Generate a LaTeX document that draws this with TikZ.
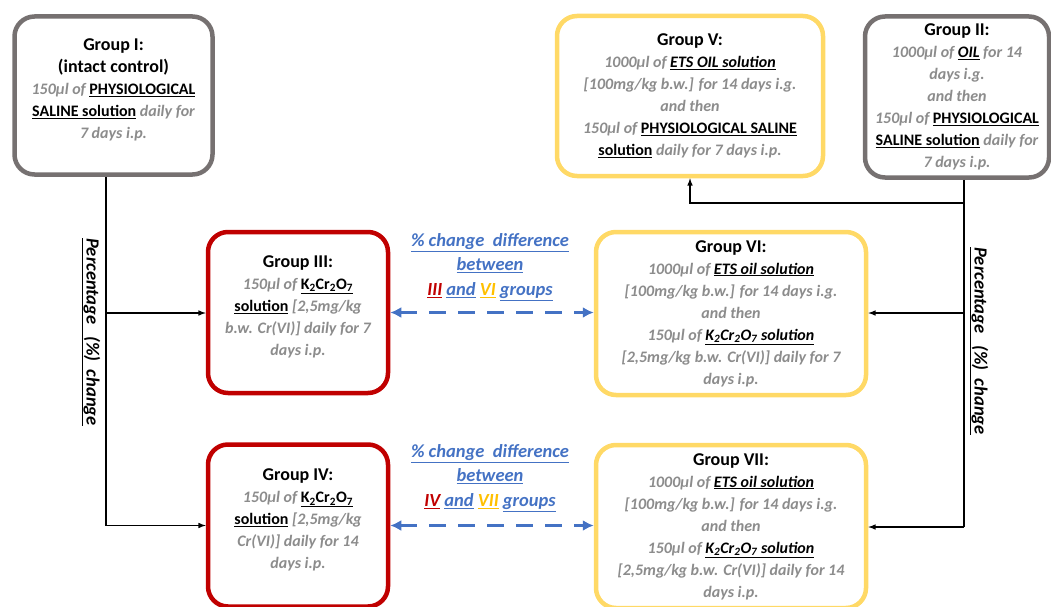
\documentclass[tikz,border=0pt]{standalone}
\usepackage{fontspec}
\setmainfont{Carlito}
\usepackage{xcolor}
\usetikzlibrary{positioning, arrows.meta}
\definecolor{boxgray}{HTML}{767171}
\definecolor{boxred}{HTML}{C00000}
\definecolor{boxyellow}{HTML}{FFD966}
\definecolor{txtgray}{HTML}{8C8C8C}
\definecolor{linkblue}{HTML}{4472C4}
\definecolor{txtgold}{HTML}{FFC000}
\newcommand{\hl}[1]{\textcolor{black}{\underline{#1}}}
\newcommand{\chem}{K\textsubscript{2}Cr\textsubscript{2}O\textsubscript{7}}
\newcommand{\ttl}[1]{\textcolor{black}{\upshape\fontsize{18}{21}\selectfont #1}}
\newcommand{\raisetxt}{\\[-8pt]\mbox{}}
\tikzset{
  grp/.style={draw, line width=4.5pt, rounded corners=20pt, fill=white, align=center,
    font=\bfseries\itshape\fontsize{16}{22}\selectfont, text=txtgray, inner sep=2pt},
  grpgray/.style={grp, draw=boxgray},
  grpred/.style={grp, draw=boxred},
  grpyellow/.style={grp, draw=boxyellow},
  link/.style={line width=1.5pt, ->},
  diff/.style={line width=3pt, linkblue, dash pattern=on 17pt off 12pt,
    {Latex[length=11pt,width=11pt]}-{Latex[length=11pt,width=11pt]}},
  difflbl/.style={align=center, text=linkblue, font=\bfseries\itshape\fontsize{18.5}{24.5}\selectfont},
  pct/.style={rotate=-90, font=\bfseries\itshape\fontsize{18.5}{20}\selectfont}
}
\begin{document}
\begin{tikzpicture}[>=latex, x=1pt, y=-1pt]
  \useasboundingbox (0,0) rectangle (1051,607);
  % Groups
  \node[grpgray, minimum width=198pt, minimum height=158pt] (g1) at (113.5,95.5)
    {\ttl{Group I:}\\ \ttl{(intact control)}\\ 150µl of \hl{\upshape PHYSIOLOGICAL}\\
     \hl{\upshape SALINE solution} daily for\\ 7 days i.p.\raisetxt};
  \node[grpgray, minimum width=184pt, minimum height=161pt] (g2) at (957,97)
    {\ttl{Group II:}\\ 1000µl of \hl{OIL} for 14\\ days i.g.\\ and then\\
     150µl of \hl{\upshape PHYSIOLOGICAL}\\ \hl{\upshape SALINE solution} daily for\\ 7 days i.p.};
  \node[grpyellow, minimum width=266pt, minimum height=160pt] (g5) at (690,96)
    {\ttl{Group V:}\\ 1000µl of \hl{ETS OIL solution}\\ {[}100mg/kg b.w.{]} for 14 days i.g.\\ and then\\
     150µl of \hl{\upshape PHYSIOLOGICAL SALINE}\\ \hl{\upshape solution} daily for 7 days i.p.};
  \node[grpred, minimum width=180pt, minimum height=161pt] (g3) at (298,312.5)
    {\ttl{Group III:}\\ 150µl of \hl{\upshape\chem}\\ \hl{\upshape solution} {[}2,5mg/kg\\
     b.w. Cr(VI){]} daily for 7\\ days i.p.\raisetxt};
  \node[grpyellow, minimum width=270pt, minimum height=163pt] (g6) at (731,313.5)
    {\ttl{Group VI:}\\ 1000µl of \hl{ETS oil solution}\\ {[}100mg/kg b.w.{]} for 14 days i.g.\\ and then\\
     150µl of \hl{\chem\ solution}\\ {[}2,5mg/kg b.w. Cr(VI){]} daily for 7\\ days i.p.};
  \node[grpred, minimum width=180pt, minimum height=162pt] (g4) at (298,525.5)
    {\ttl{Group IV:}\\ 150µl of \hl{\upshape\chem}\\ \hl{\upshape solution} {[}2,5mg/kg\\
     Cr(VI){]} daily for 14\\ days i.p.\raisetxt};
  \node[grpyellow, minimum width=270pt, minimum height=163pt] (g7) at (731,526.5)
    {\ttl{Group VII:}\\ 1000µl of \hl{ETS oil solution}\\ {[}100mg/kg b.w.{]} for 14 days i.g.\\ and then\\
     150µl of \hl{\chem\ solution}\\ {[}2,5mg/kg b.w. Cr(VI){]} daily for 14\\ days i.p.};
  % Left trunk
  \coordinate (l3) at (106,313);
  \coordinate (l4) at (106,525.5);
  \draw[line width=1.5pt] (g1.south -| l3) -- (l4);
  \draw[link] (l3) -- (l3 -| g3.west);
  \draw[link] (l4) -- (l4 -| g4.west);
  % Right trunk
  \coordinate (r5) at (964,203);
  \coordinate (r6) at (964,313);
  \coordinate (r7) at (964,527);
  \draw[line width=1.5pt] (g2.south -| r5) -- (r7);
  \draw[link] (r5) -- (r5 -| g5.south) -- (g5.south);
  \draw[link] (r6) -- (r6 -| g6.east);
  \draw[link] (r7) -- (r7 -| g7.east);
  % Differences
  \draw[diff] (g3.east) -- (g3.east -| g6.west);
  \draw[diff] (g4.east) -- (g4.east -| g7.west);
  \node[difflbl] (d36) at (490,267)
    {\underline{\% change\ \ difference}\\ \underline{between}\\
     {\color{boxred}\underline{III}} \underline{and} {\color{txtgold}\underline{VI}} \underline{groups}};
  \node[difflbl] (d47) at (490,478)
    {\underline{\% change\ \ difference}\\ \underline{between}\\
     {\color{boxred}\underline{IV}} \underline{and} {\color{txtgold}\underline{VII}} \underline{groups}};
  % Labels
  \node[pct] (pctl) at (91,332) {\underline{Percentage\hspace{8pt} (\%)\hspace{4pt} change}};
  \node[pct] (pctr) at (979,341) {\underline{Percentage\hspace{8pt} (\%)\hspace{4pt} change}};
\end{tikzpicture}
\end{document}
